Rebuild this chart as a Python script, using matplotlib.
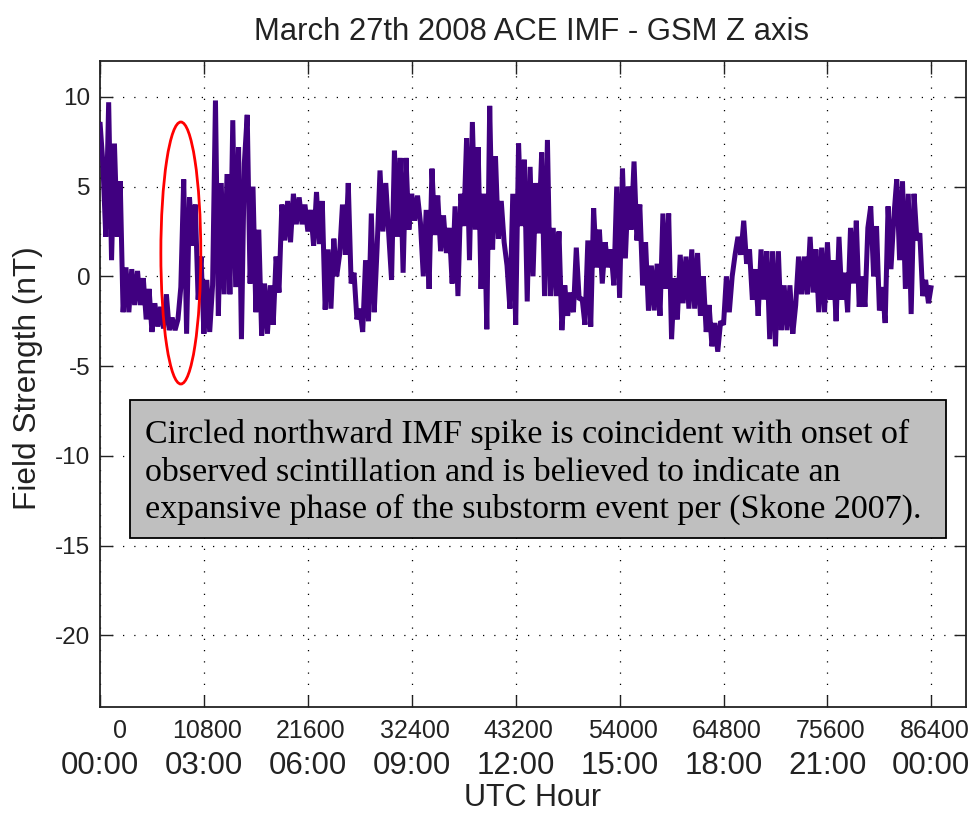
import numpy as np
import matplotlib
matplotlib.use("Agg")
import matplotlib.pyplot as plt
from matplotlib.patches import Ellipse, Rectangle
import matplotlib.transforms as mtransforms

# ---- data (Bz GSM, nT, 5-minute samples) ----
sample_step_s = 300
bz = [
    8.6, 6.3, 2.2, 9.7, 0.9, 7.4, 2.2, 5.3, -2.0, 0.5,
    -2.0, 0.4, -1.6, 0.3, -1.6, -0.1, -2.4, -0.7, -3.1, -1.5,
    -2.8, -1.7, -2.9, -1.0, -3.0, -2.3, -3.0, -2.4, -0.6, 5.4,
    -3.2, 4.4, 1.7, 4.0, -1.3, 1.1, -3.2, -0.2, -3.1, -0.5,
    9.8,
    -2.2, 5.2, -1.0, 5.7, -1.0, 8.7, -0.6, 7.2, -3.5, 6.3,
    9.0, -0.4, 5.0, -2.0, 2.6, -3.3, -0.4, -3.2, -0.5, -2.7,
    1.1, -0.9, 4.0, 2.0, 4.2, 1.9, 4.6, 2.9, 4.4, 2.9,
    4.0, 2.5, 3.7, 1.7, 4.7, 1.8, 4.2, -1.85, 1.5, -1.8,
    2.1, 0.0, 1.2,
    4.0, 1.2, 5.2, -0.4, 0.2, -2.4, -1.8, -3.1, 0.9, -2.5,
    3.5, -2.0, 1.6, 5.9, 2.5, 5.2, 2.4, -0.2, 7.0, 2.2,
    6.6, 0.2, 6.6, 2.6, 4.6, 3.1, 4.5, 3.0, 0.0, 3.7,
    -0.7, 6.0, 2.3, 4.5, 1.4, 3.4, 1.3, 2.7, -0.4, 3.9,
    -1.1,
    4.6, 2.8, 7.7, 0.9, 8.6, 2.6, 7.2, -0.7, 4.6, -2.95,
    9.5, 1.5, 6.7, 2.1, 4.2, 1.9, 0.6, -1.8, 4.6, -2.7,
    7.4, 2.8, 6.5, -1.4, 6.1, 0.0, 5.2, 2.4, 6.9, -1.1,
    7.6, -1.1, 2.7, -1.1, 2.5, -3.0, -0.5, -2.2, -0.9, -2.0,
    1.6, -1.3,
    -1.2, -2.7, 2.0, -2.8, 3.8, 0.5, 2.6, -0.4, 1.9, 0.5,
    1.5, -0.5, 5.0, -1.2, 6.0, 1.0, 5.0, 2.6, 6.4, 2.0,
    4.0, -0.5, 1.9, -1.9, 0.6, -1.9, 0.7, -2.2, 3.5, -0.7,
    3.5, -3.5, -0.1, -2.4, 1.2, -1.5, 1.1, -1.8, 1.5, -1.8,
    1.3,
    -2.2, 0.0, -3.1, -1.6, -3.9, -2.6, -4.2, -2.5, -2.7, 0.0,
    -2.0, 0.0, 1.2, 2.2, 1.2, 3.1, 0.7, 1.5, -1.3, 0.4,
    -2.2, 1.5, -1.3, 1.4, -3.5, 1.4, -3.9, 1.4, -3.0, -0.5,
    -3.0, -0.5, -3.2, -1.6, 1.1, -1.0, 1.1, -1.0, 2.2, -0.9,
    1.5,
    -2.0, 1.6, -2.0, 1.9, -1.3, 0.9, -2.5, 2.2, -1.3, 0.2,
    -2.0, 2.7, -0.4, 3.1, -1.7, 0.0, -1.7, 2.7, 3.9, 0.0,
    2.8, -1.9, -0.6, -2.6, 3.9, 0.4, 3.3, 5.4, 0.9, 5.3,
    -0.7, 4.6, -2.1, 4.6, 2.0, 2.4, -1.1, -0.2, -1.5, -0.5,
]
seconds = np.arange(len(bz)) * sample_step_s

xtick_seconds = [0, 10800, 21600, 32400, 43200, 54000, 64800, 75600, 86400]
xtick_hours = ["00:00", "03:00", "06:00", "09:00", "12:00", "15:00",
               "18:00", "21:00", "00:00"]
ytick_values = [-20, -15, -10, -5, 0, 5, 10]

ellipse_center = (8400, 1.3)
ellipse_size = (4150, 14.6)

title = "March 27th 2008 ACE IMF - GSM Z axis"
xlabel = "UTC Hour"
ylabel = "Field Strength (nT)"
note_lines = [
    "Circled northward IMF spike is coincident with onset of",
    "observed scintillation and is believed to indicate an",
    "expansive phase of the substorm event per (Skone 2007).",
]

# ---- figure ----
W, H = 974, 813
fig = plt.figure(figsize=(W / 100, H / 100), dpi=100)
plt.rcParams["font.family"] = ["Liberation Sans", "DejaVu Sans"]
txt = "#222222"

ax = fig.add_axes([100 / W, 1 - 707 / H, 866 / W, 646 / H])
ax.plot(seconds, bz, color="#400080", lw=3.6, solid_joinstyle="bevel",
        solid_capstyle="butt", zorder=3)

ax.add_patch(Ellipse(ellipse_center, ellipse_size[0], ellipse_size[1],
                     fill=False, edgecolor="#ff0000", lw=2.0, zorder=4))

ax.set_xlim(0, 90000)
ax.set_ylim(-24, 12)
ax.set_xticks(xtick_seconds)
ax.set_xticklabels([])
ax.set_yticks(ytick_values)
ax.set_yticklabels([str(v) for v in ytick_values], fontsize=17.5, color=txt)
ax.tick_params(direction="in", length=9, width=1.0, top=True, right=True,
               pad=7, color=txt)
ax.grid(True, color="black", linestyle=(0, (1, 8)), lw=0.9)
for s in ax.spines.values():
    s.set_color(txt)
    s.set_linewidth(1.3)

# two-row x tick labels
bt = mtransforms.blended_transform_factory(ax.transData, fig.transFigure)
for i, (sec, hh) in enumerate(zip(xtick_seconds, xtick_hours)):
    dx = 20 if i == 0 else 3
    tr = mtransforms.offset_copy(bt, fig=fig, x=dx, y=0, units="dots")
    ax.text(sec, 1 - 738 / H, str(sec), transform=tr, ha="center",
            va="baseline", fontsize=18, color=txt, clip_on=False)
    ax.text(sec, 1 - 774 / H, hh, transform=bt, ha="center",
            va="baseline", fontsize=22.5, color=txt, clip_on=False)

fig.text(531 / W, 1 - 40 / H, title, ha="center", va="baseline",
         fontsize=22.3, color=txt)
fig.text(533 / W, 1 - 806 / H, xlabel, ha="center", va="baseline",
         fontsize=22, color=txt)
fig.text(28 / W, 1 - 378 / H, ylabel, ha="center", va="center",
         rotation=90, fontsize=22.8, color=txt)

# annotation box
ax.add_patch(Rectangle((130 / W, 1 - 538 / H), 816 / W, 138 / H,
                       transform=fig.transFigure, facecolor="#bfbfbf",
                       edgecolor="black", lw=1.3, zorder=6))
for k, line in enumerate(note_lines):
    fig.text(145 / W, 1 - (443 + 37.5 * k) / H, line, ha="left",
             va="baseline", fontsize=24.5, family="Liberation Serif",
             color="black", zorder=7)

fig.savefig("out.png", dpi=100)
